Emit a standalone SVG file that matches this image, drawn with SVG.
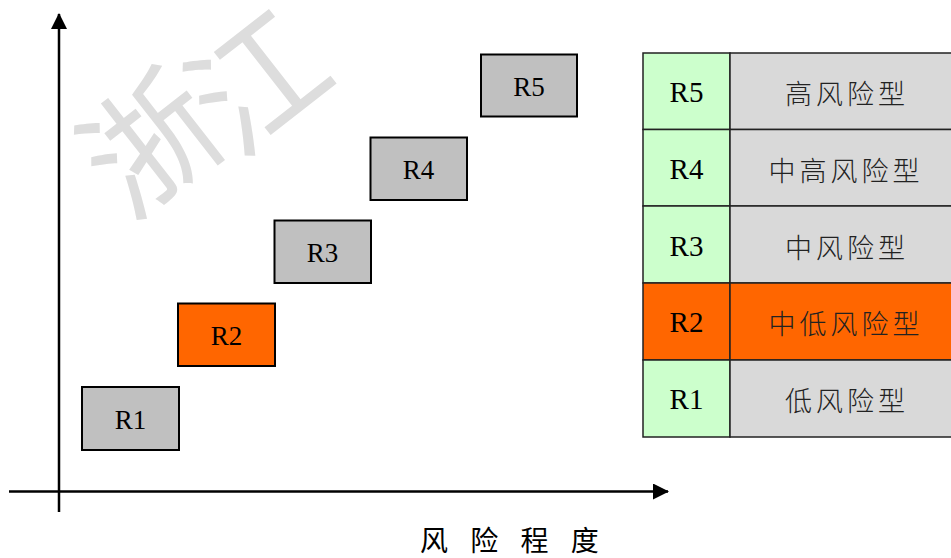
<svg xmlns="http://www.w3.org/2000/svg" width="951" height="558" viewBox="0 0 951 558">
<style>
.box{fill:#C0C0C0;stroke:#000;stroke-width:2}
.hot{fill:#FF6600}
.lbl{font-family:"Liberation Serif","Times New Roman",serif;font-size:27px;fill:#000;text-anchor:middle}
.tl{font-family:"Liberation Serif","Times New Roman",serif;font-size:29px;fill:#000;text-anchor:middle;dominant-baseline:central}
.cn{font-family:"Noto Sans CJK SC",sans-serif;font-size:27px;font-weight:300;fill:#222;text-anchor:middle;dominant-baseline:central;letter-spacing:4px}
.cell{stroke:#222;stroke-width:1.5}
.axis{stroke:#000;stroke-width:2.5;fill:none}
</style>
<defs>
<marker id="ah" viewBox="0 0 16 16" refX="15" refY="8" markerWidth="16" markerHeight="16" markerUnits="userSpaceOnUse" orient="auto">
<path d="M0,0 L16,8 L0,16 Z" fill="#000"/>
</marker>
</defs>
<rect width="951" height="558" fill="#fff"/>
<g id="watermark" fill="#DDDDDD" font-family="Noto Sans CJK SC,sans-serif" font-size="132">
<text x="145" y="136" text-anchor="middle" dominant-baseline="central" transform="rotate(-38 145 136)">浙</text>
<text x="252" y="74" text-anchor="middle" dominant-baseline="central" transform="rotate(-38 252 74)">江</text>
</g>
<g id="connectors">
<line class="axis" x1="59" y1="512" x2="59" y2="14" marker-end="url(#ah)"/>
<line class="axis" x1="9" y1="491.5" x2="668" y2="491.5" marker-end="url(#ah)"/>
</g>
<g id="R1"><rect class="box" x="82" y="387" width="97" height="63"/><text class="lbl" x="130.5" y="429">R1</text></g>
<g id="R2"><rect class="box hot" x="178" y="303.5" width="97" height="62.5"/><text class="lbl" x="226.5" y="345">R2</text></g>
<g id="R3"><rect class="box" x="274.5" y="220.5" width="96.5" height="62.5"/><text class="lbl" x="322.5" y="262">R3</text></g>
<g id="R4"><rect class="box" x="370.5" y="137.5" width="96.5" height="62.5"/><text class="lbl" x="418.5" y="179">R4</text></g>
<g id="R5"><rect class="box" x="481" y="54.5" width="96" height="62"/><text class="lbl" x="529" y="96">R5</text></g>
<g id="legend">
<g id="row5"><rect class="cell" x="643" y="53" width="87" height="76.5" fill="#CCFFCC"/><rect class="cell" x="730" y="53" width="225" height="76.5" fill="#D9D9D9"/><text class="tl" x="686.5" y="92">R5</text><text class="cn" x="847" y="92">高风险型</text></g>
<g id="row4"><rect class="cell" x="643" y="129.5" width="87" height="76.5" fill="#CCFFCC"/><rect class="cell" x="730" y="129.5" width="225" height="76.5" fill="#D9D9D9"/><text class="tl" x="686.5" y="169">R4</text><text class="cn" x="846" y="169">中高风险型</text></g>
<g id="row3"><rect class="cell" x="643" y="206" width="87" height="77" fill="#CCFFCC"/><rect class="cell" x="730" y="206" width="225" height="77" fill="#D9D9D9"/><text class="tl" x="686.5" y="246">R3</text><text class="cn" x="847" y="246">中风险型</text></g>
<g id="row2"><rect class="cell" x="643" y="283" width="87" height="77" fill="#FF6600"/><rect class="cell" x="730" y="283" width="225" height="77" fill="#FF6600"/><text class="tl" x="686.5" y="322">R2</text><text class="cn" x="846" y="322">中低风险型</text></g>
<g id="row1"><rect class="cell" x="643" y="360" width="87" height="77" fill="#CCFFCC"/><rect class="cell" x="730" y="360" width="225" height="77" fill="#D9D9D9"/><text class="tl" x="686.5" y="399">R1</text><text class="cn" x="847" y="399">低风险型</text></g>
</g>
<text id="xlabel" x="420" y="551" font-family="Noto Sans CJK SC,sans-serif" font-size="28" fill="#000" letter-spacing="8" xml:space="preserve">风 险 程 度</text>
</svg>
